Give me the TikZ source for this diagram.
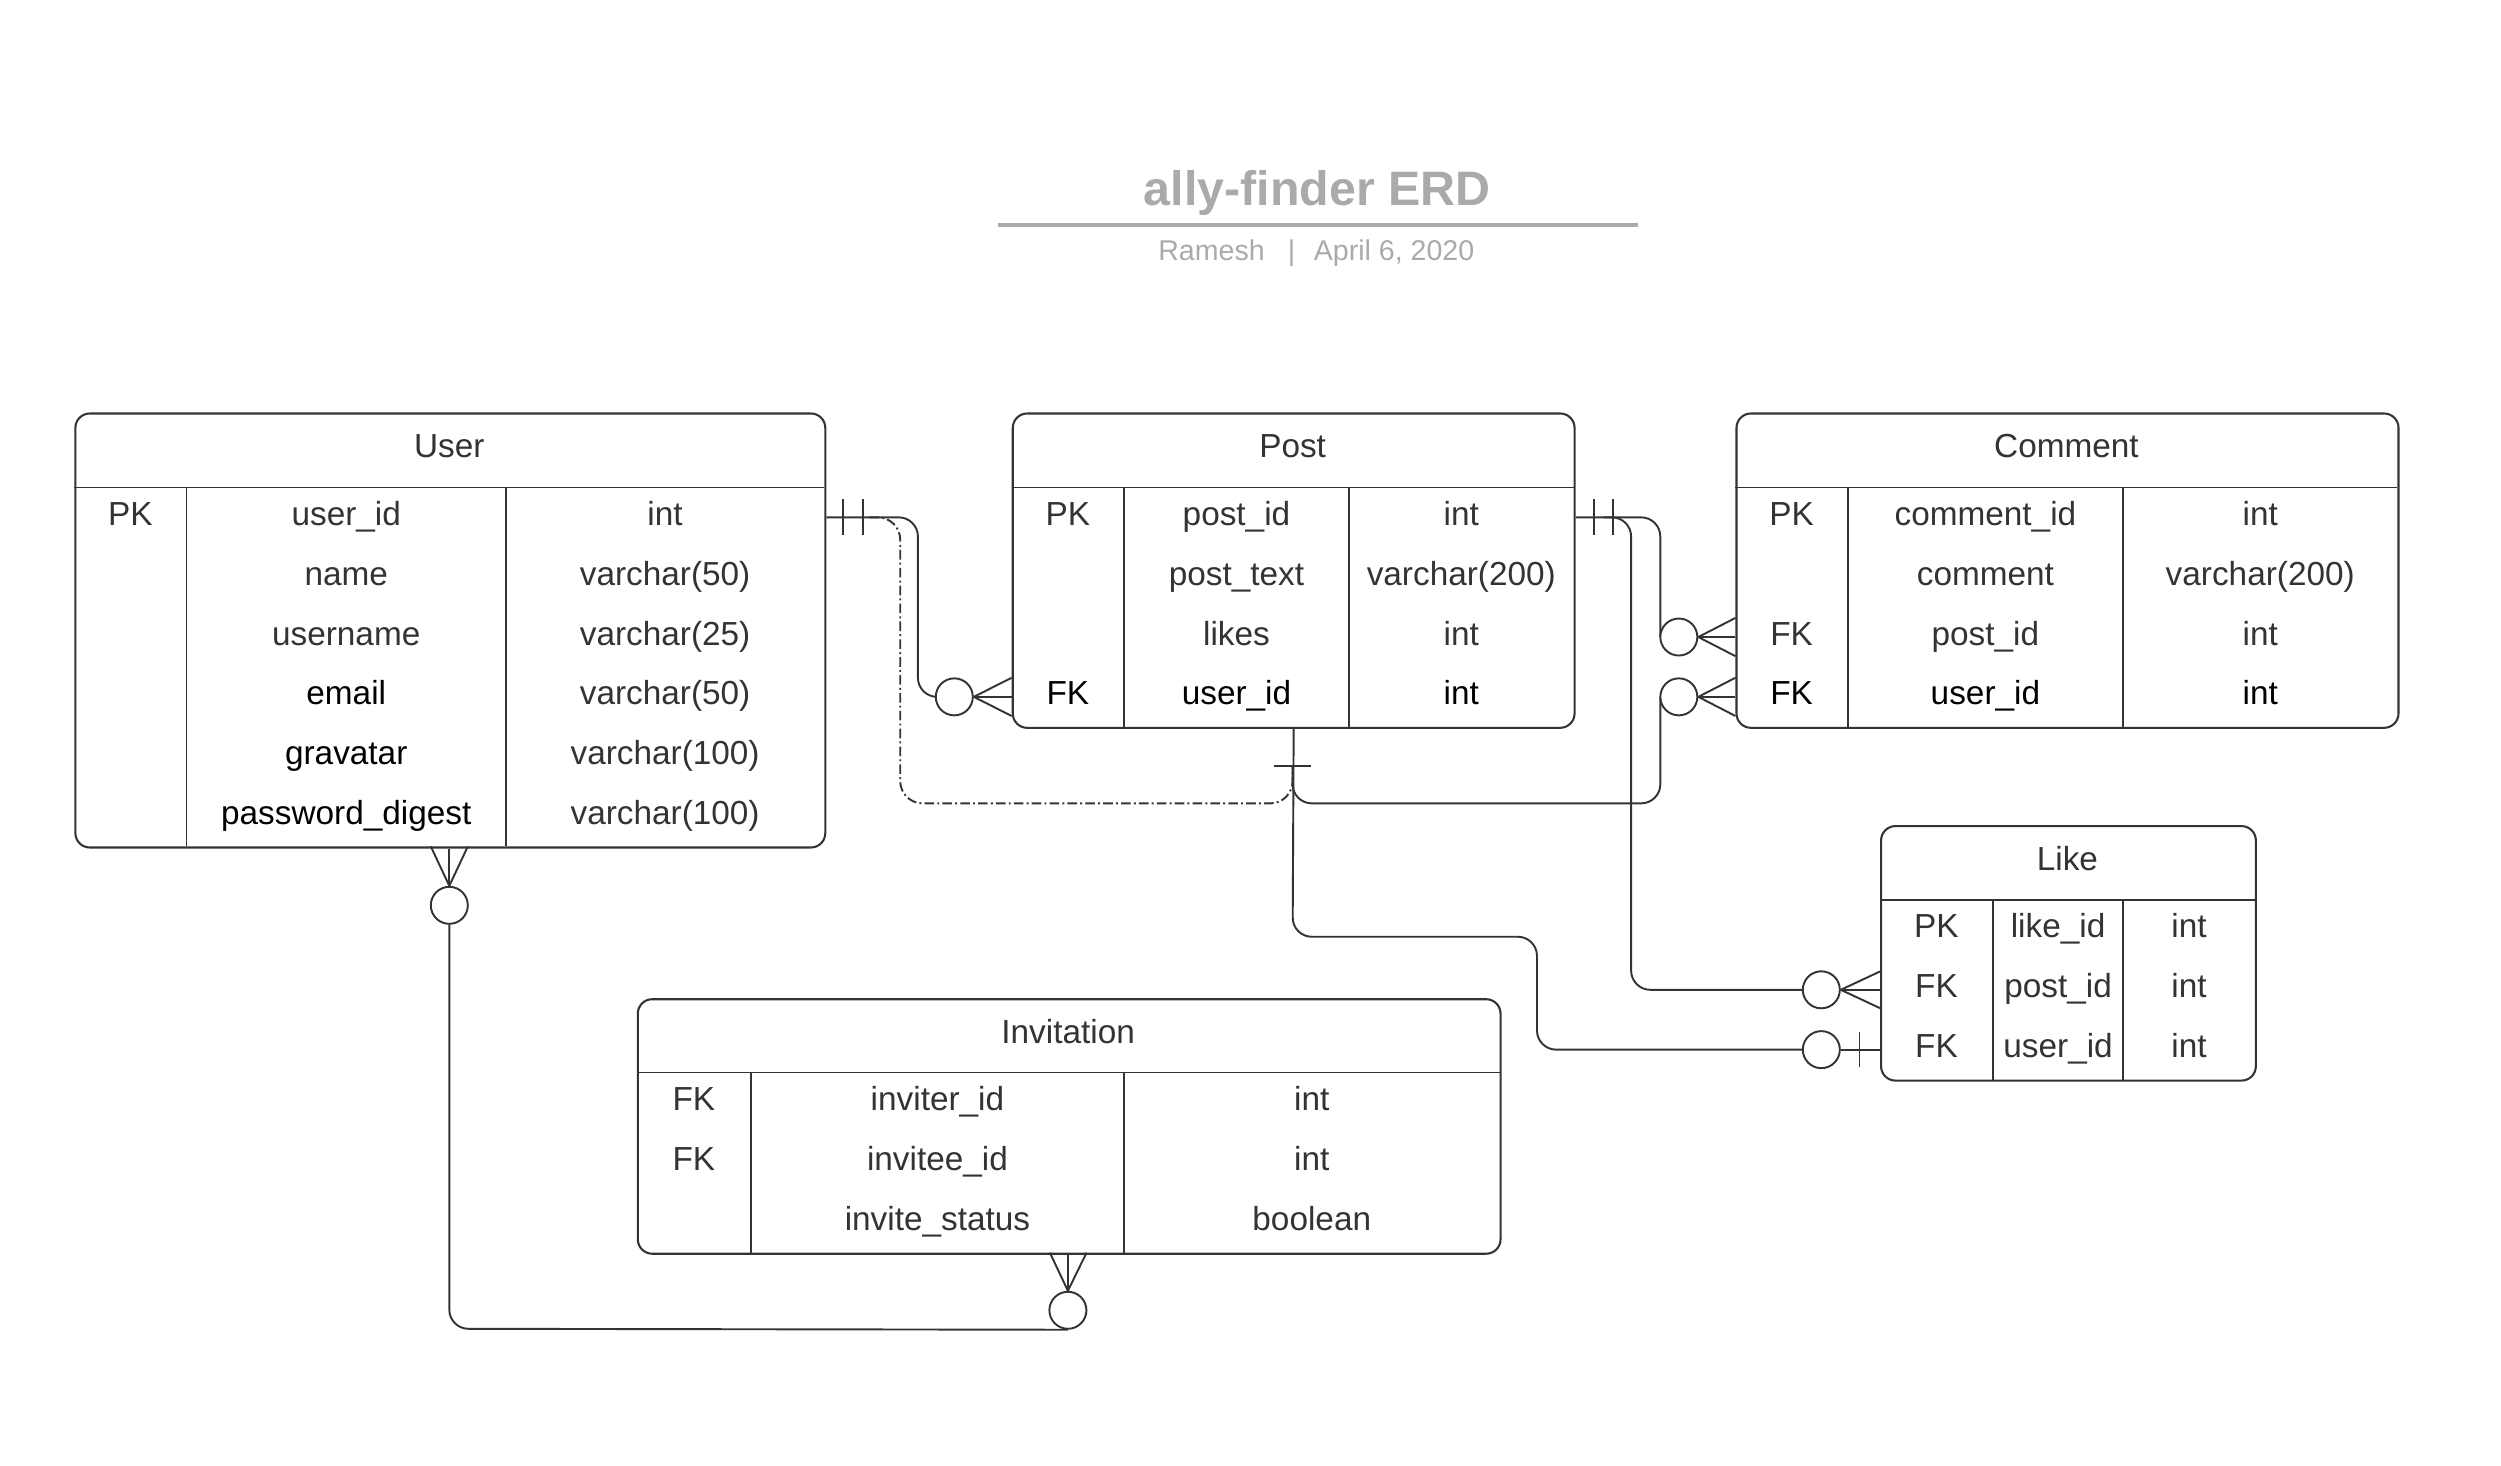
\documentclass[tikz,border=0pt]{standalone}
\usepackage{fontspec}
\setmainfont{Liberation Sans}
\definecolor{ln}{HTML}{333333}
\definecolor{tx}{HTML}{333333}
\definecolor{tgray}{HTML}{AAAAAA}
\newcommand\erdfs{\fontsize{20.9pt}{25pt}\selectfont}
\begin{document}
\begin{tikzpicture}[x=1pt,y=-1pt,
  tbl/.style={draw=ln, line width=1.3pt, rounded corners=9pt, anchor=north west, inner sep=0pt},
  div/.style={draw=ln, line width=1.1pt},
  cell/.style={inner sep=0pt, text height=15pt, text depth=5pt, font=\erdfs, text=tx},
  dk/.style={text=black},
  conn/.style={draw=ln, line width=1.2pt, rounded corners=12pt},
  dashconn/.style={draw=ln, line width=1.2pt, rounded corners=14pt, dash pattern=on 6pt off 2pt on 1.2pt off 2pt},
  crow/.style={draw=ln, line width=1.2pt},
  zc/.style={circle, draw=ln, line width=1.2pt, minimum size=23.2pt, inner sep=0pt, fill=white}
]
\useasboundingbox (0,0) rectangle (1567.5,918.8);

% ---------- title ----------
\node[anchor=base, inner sep=0pt, text=tgray, font=\fontsize{30.3pt}{35pt}\selectfont\bfseries] (title) at (825.5,128.5) {ally-finder ERD};
\draw[draw=tgray, line width=2.5pt] (625.6,141) -- (1026.3,141);
\node[anchor=base, inner sep=0pt, text=tgray, font=\fontsize{17.9pt}{21pt}\selectfont] (subtitle) at (825,163.5) {Ramesh\hspace{14.5pt}|\hspace{11.7pt}April 6, 2020};

% ---------- User ----------
\node[tbl, minimum width=470pt, minimum height=272pt] (user) at (46.6,258.5) {};
\draw[div] (46.6,305.5) -- (516.6,305.5);
\draw[div] (116.9,305.5) -- (116.9,530.5);
\draw[div] (317.1,305.5) -- (317.1,530.5);
\node[cell] (u-h) at (281.6,282) {User};
\node[cell] (u-k1) at (81.75,324.25) {PK};
\node[cell] (u-n1) at (217,324.25) {user\_id};
\node[cell] (u-t1) at (416.85,324.25) {int};
\node[cell] (u-n2) at (217,361.75) {name};
\node[cell] (u-t2) at (416.85,361.75) {varchar(50)};
\node[cell] (u-n3) at (217,399.25) {username};
\node[cell] (u-t3) at (416.85,399.25) {varchar(25)};
\node[cell,dk] (u-n4) at (217,436.75) {email};
\node[cell] (u-t4) at (416.85,436.75) {varchar(50)};
\node[cell,dk] (u-n5) at (217,474.25) {gravatar};
\node[cell] (u-t5) at (416.85,474.25) {varchar(100)};
\node[cell,dk] (u-n6) at (217,511.75) {password\_digest};
\node[cell] (u-t6) at (416.85,511.75) {varchar(100)};

% ---------- Post ----------
\node[tbl, minimum width=352.1pt, minimum height=197pt] (post) at (634.1,258.5) {};
\draw[div] (634.1,305.5) -- (986.2,305.5);
\draw[div] (704.4,305.5) -- (704.4,455.5);
\draw[div] (845.5,305.5) -- (845.5,455.5);
\node[cell] (p-h) at (810.15,282) {Post};
\node[cell] (p-k1) at (669.25,324.25) {PK};
\node[cell] (p-n1) at (774.95,324.25) {post\_id};
\node[cell] (p-t1) at (915.85,324.25) {int};
\node[cell] (p-n2) at (774.95,361.75) {post\_text};
\node[cell] (p-t2) at (915.85,361.75) {varchar(200)};
\node[cell] (p-n3) at (774.95,399.25) {likes};
\node[cell] (p-t3) at (915.85,399.25) {int};
\node[cell,dk] (p-k4) at (669.25,436.75) {FK};
\node[cell,dk] (p-n4) at (774.95,436.75) {user\_id};
\node[cell,dk] (p-t4) at (915.85,436.75) {int};

% ---------- Comment ----------
\node[tbl, minimum width=414.9pt, minimum height=197pt] (comment) at (1087.7,258.5) {};
\draw[div] (1087.7,305.5) -- (1502.6,305.5);
\draw[div] (1158.1,305.5) -- (1158.1,455.5);
\draw[div] (1330.6,305.5) -- (1330.6,455.5);
\node[cell] (c-h) at (1295.15,282) {Comment};
\node[cell] (c-k1) at (1122.9,324.25) {PK};
\node[cell] (c-n1) at (1244.35,324.25) {comment\_id};
\node[cell] (c-t1) at (1416.6,324.25) {int};
\node[cell] (c-n2) at (1244.35,361.75) {comment};
\node[cell] (c-t2) at (1416.6,361.75) {varchar(200)};
\node[cell] (c-k3) at (1122.9,399.25) {FK};
\node[cell] (c-n3) at (1244.35,399.25) {post\_id};
\node[cell] (c-t3) at (1416.6,399.25) {int};
\node[cell,dk] (c-k4) at (1122.9,436.75) {FK};
\node[cell,dk] (c-n4) at (1244.35,436.75) {user\_id};
\node[cell,dk] (c-t4) at (1416.6,436.75) {int};

% ---------- Like ----------
\node[tbl, minimum width=234.9pt, minimum height=159.5pt] (like) at (1178.3,517.1) {};
\draw[div] (1178.3,564.1) -- (1413.2,564.1);
\draw[div] (1249,564.1) -- (1249,676.6);
\draw[div] (1330.8,564.1) -- (1330.8,676.6);
\node[cell] (l-h) at (1295.75,540.6) {Like};
\node[cell] (l-k1) at (1213.65,582.85) {PK};
\node[cell] (l-n1) at (1289.9,582.85) {like\_id};
\node[cell] (l-t1) at (1372,582.85) {int};
\node[cell] (l-k2) at (1213.65,620.35) {FK};
\node[cell] (l-n2) at (1289.9,620.35) {post\_id};
\node[cell] (l-t2) at (1372,620.35) {int};
\node[cell] (l-k3) at (1213.65,657.85) {FK};
\node[cell] (l-n3) at (1289.9,657.85) {user\_id};
\node[cell] (l-t3) at (1372,657.85) {int};

% ---------- Invitation ----------
\node[tbl, minimum width=540.7pt, minimum height=159.5pt] (invitation) at (399.1,625.6) {};
\draw[div] (399.1,672.1) -- (939.8,672.1);
\draw[div] (470.6,672.1) -- (470.6,785.1);
\draw[div] (704.5,672.1) -- (704.5,785.1);
\node[cell] (i-h) at (669.45,648.85) {Invitation};
\node[cell] (i-k1) at (434.85,690.9) {FK};
\node[cell] (i-n1) at (587.55,690.9) {inviter\_id};
\node[cell] (i-t1) at (822.15,690.9) {int};
\node[cell] (i-k2) at (434.85,728.6) {FK};
\node[cell] (i-n2) at (587.55,728.6) {invitee\_id};
\node[cell] (i-t2) at (822.15,728.6) {int};
\node[cell] (i-n3) at (587.55,766.3) {invite\_status};
\node[cell] (i-t3) at (822.15,766.3) {boolean};

% ---------- connector end points ----------
\coordinate (ubranch) at (545,324.25);
\coordinate (pbranch) at (1005,324.25);
\coordinate (pbar) at (810.15,480);

% dash-dot connector
\draw[dashconn] (ubranch) -- (564.2,324.25) -- (564.2,503.5) -- (810.15,503.5) -- (pbar);

% User -> Post
\draw[conn] (user.east |- u-n1) -- (575.3,324.25) -- (575.3,436.75) -- (598.1,436.75);
\draw[crow] (528.6,313) -- (528.6,335.5);
\draw[crow] (540.6,313) -- (540.6,335.5);
\node[zc] (pc) at (598.1,436.75) {};
\draw[crow] (pc.east) -- (post.west |- p-k4);
\draw[crow] (pc.east) -- (634.1,424.75);
\draw[crow] (pc.east) -- (634.1,448.75);

% Post -> Comment (post_id)
\draw[conn] (post.east |- p-n1) -- (1040.6,324.25) -- (1040.6,399.25);
\draw[crow] (999,313) -- (999,335.5);
\draw[crow] (1011,313) -- (1011,335.5);
\node[zc] (cc1) at (1052.2,399.25) {};
\draw[crow] (cc1.east) -- (comment.west |- c-k3);
\draw[crow] (cc1.east) -- (1087.7,387.25);
\draw[crow] (cc1.east) -- (1087.7,411.25);

% Post bottom -> Comment (user_id)
\draw[conn] (pbar) -- (810.15,503.5) -- (1040.6,503.5) -- (1040.6,436.75);
\node[zc] (cc2) at (1052.2,436.75) {};
\draw[crow] (cc2.east) -- (comment.west |- c-k4);
\draw[crow] (cc2.east) -- (1087.7,424.75);
\draw[crow] (cc2.east) -- (1087.7,448.75);

% Post -> Like (post_id)
\draw[conn] (pbranch) -- (1022.3,324.25) -- (1022.3,620.35) -- (1141.5,620.35);
\node[zc] (lc1) at (1141.5,620.35) {};
\draw[crow] (lc1.east) -- (like.west |- l-k2);
\draw[crow] (lc1.east) -- (1178.3,608.85);
\draw[crow] (lc1.east) -- (1178.3,631.85);

% Post bottom -> Like (user_id)
\draw[conn] (post.south) -- (810.15,587.1) -- (963.3,587.1) -- (963.3,657.85) -- (1141.5,657.85);
\draw[crow] (798.6,480) -- (821.7,480);
\node[zc] (lc2) at (1141.5,657.85) {};
\draw[crow] (lc2.east) -- (like.west |- l-k3);
\draw[crow] (1165.4,646.85) -- (1165.4,668.85);

% User -> Invitation
\node[zc] (uc) at (281.6,567.4) {};
\node[zc] (ic) at (669.3,821.2) {};
\draw[conn] (uc.south) -- (281.6,832.8) -- (ic.south);
\draw[crow] (uc.north) -- (user.south -| uc);
\draw[crow] (uc.north) -- (270,530.5);
\draw[crow] (uc.north) -- (293.2,530.5);
\draw[crow] (ic.north) -- (invitation.south -| ic);
\draw[crow] (ic.north) -- (658,785.1);
\draw[crow] (ic.north) -- (681,785.1);
\end{tikzpicture}
\end{document}
